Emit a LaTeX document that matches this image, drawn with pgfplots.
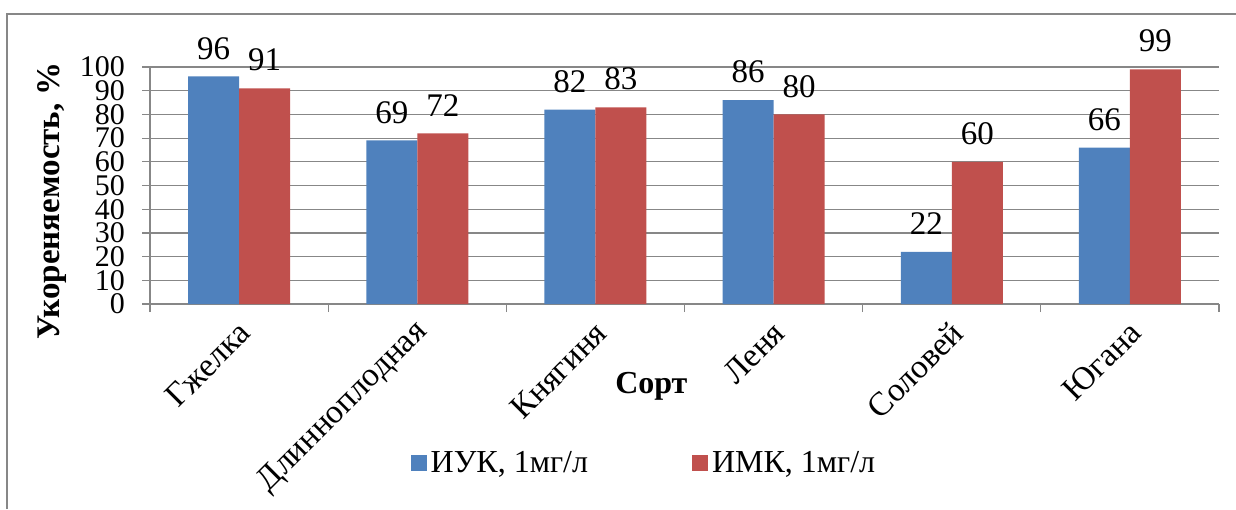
\documentclass[border=0pt]{standalone}
\usepackage{fontspec}
\setmainfont{Liberation Serif}
\usepackage{pgfplots}
\pgfplotsset{compat=1.18}
\definecolor{cblue}{HTML}{4F81BD}
\definecolor{cred}{HTML}{C0504D}
\definecolor{cgrid}{HTML}{878787}
\begin{document}
\begin{tikzpicture}
\useasboundingbox (0,0) rectangle (618pt,254.5pt);
\draw[cgrid, line width=0.6pt] (3.5pt,0) -- (3.5pt,247.5pt) -- (620pt,247.5pt);
\begin{axis}[
  at={(75pt,102.5pt)}, anchor=south west,
  width=534.5pt, height=118.5pt, scale only axis,
  clip=false,
  /pgf/number format/assume math mode=true,
  ybar=0pt, bar width=25.5pt,
  xmin=-0.5, xmax=5.5, ymin=0, ymax=100,
  xtick={0,...,5},
  xticklabels={Гжелка,Длинноплодная,Княгиня,Леня,Соловей,Югана},
  minor xtick={-0.5,0.5,...,5.5},
  ytick={0,10,...,100},
  ymajorgrids, major grid style={cgrid, line width=0.6pt},
  axis x line*=bottom, axis y line*=left,
  axis line style={cgrid, line width=0.6pt, -},
  tick align=outside, major tick length=4pt, minor tick length=4pt,
  tick style={cgrid, line width=0.6pt},
  major x tick style={draw=none},
  yticklabel style={font=\fontsize{15}{15}\selectfont, xshift=-5pt},
  xticklabel style={font=\fontsize{16.7}{18}\selectfont, rotate=45, anchor=east, yshift=-7.5pt},
  ylabel={\textbf{Укореняемость, \%}},
  ylabel style={font=\fontsize{16.5}{18}\selectfont, at={(axis description cs:-0.0917,0.435)}, anchor=center, rotate=0},
  xlabel={\textbf{Сорт}},
  xlabel style={font=\fontsize{16}{18}\selectfont, at={(axis description cs:0.469,-0.346)}, anchor=center},
  nodes near coords,
  every node near coord/.append style={font=\fontsize{16.5}{18}\selectfont, text=black, yshift=5pt},
  legend columns=2,
  legend style={at={(0.463,-0.671)}, anchor=center, draw=none, fill=none,
    font=\fontsize{16}{18}\selectfont,
    /tikz/every even column/.append style={column sep=50pt}},
  legend image code/.code={\fill[#1] (0pt,-4pt) rectangle (8pt,4pt);},
]
\addplot[fill=cblue, draw=none] coordinates {(0,96) (1,69) (2,82) (3,86) (4,22) (5,66)};
\addplot[fill=cred, draw=none] coordinates {(0,91) (1,72) (2,83) (3,80) (4,60) (5,99)};
\legend{{ИУК, 1мг/л}, {ИМК, 1мг/л}}
\end{axis}
\end{tikzpicture}
\end{document}
